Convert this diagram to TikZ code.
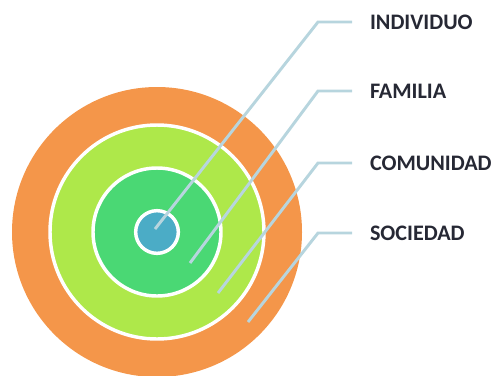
\documentclass[tikz,border=0pt]{standalone}
\usepackage{fontspec}
\setmainfont{Carlito}
\usetikzlibrary{positioning}
\usetikzlibrary{calc}
\definecolor{ringorange}{RGB}{244,150,74}
\definecolor{ringlime}{RGB}{174,232,74}
\definecolor{ringgreen}{RGB}{74,216,116}
\definecolor{ringblue}{RGB}{75,172,198}
\definecolor{leadcol}{RGB}{183,213,222}
\definecolor{textcol}{RGB}{38,40,52}

\begin{document}
\begin{tikzpicture}[x=0.75pt,y=-0.75pt,
  ring/.style={circle, inner sep=0pt, draw=white, line width=2.6pt},
  leader/.style={leadcol, line width=2.2pt},
  level/.style={anchor=west, inner sep=0pt, outer xsep=13.5pt, text=textcol, font=\fontsize{16.6}{19}\selectfont\bfseries}]
  \useasboundingbox (0,0) rectangle (495,375);
  \node[circle, inner sep=0pt, fill=ringorange, minimum size=217.5pt](soc) at (157,232) {};
  \node[ring, fill=ringlime, minimum size=160.5pt](com) at (soc.center) {};
  \node[ring, fill=ringgreen, minimum size=96pt](fam) at (soc.center) {};
  \node[ring, fill=ringblue, minimum size=32pt](ind) at (soc.center) {};

  \node[level](l_ind) at (352,22) {INDIVIDUO};
  \node[level](l_fam) at (352,91) {FAMILIA};
  \node[level](l_com) at (352,163) {COMUNIDAD};
  \node[level](l_soc) at (352,233) {SOCIEDAD};

  \coordinate(p_ind) at (155,229);
  \coordinate(p_fam) at (190,263);
  \coordinate(p_com) at (218,293);
  \coordinate(p_soc) at (248,322);

  \draw[leader] (p_ind) -- (318,22 |- l_ind.west) -- (l_ind.west);
  \draw[leader] (p_fam) -- (318,91 |- l_fam.west) -- (l_fam.west);
  \draw[leader] (p_com) -- (318,163 |- l_com.west) -- (l_com.west);
  \draw[leader] (p_soc) -- (318,233 |- l_soc.west) -- (l_soc.west);
\end{tikzpicture}
\end{document}
